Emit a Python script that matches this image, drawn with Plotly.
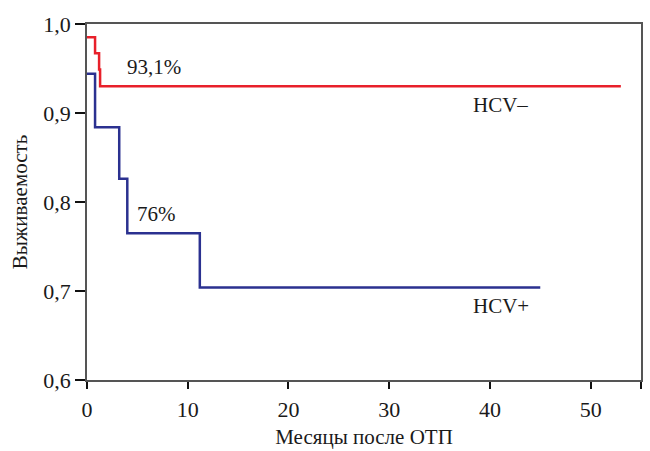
import plotly.graph_objects as go

# HCV- survival curve (months, survival)
neg_months = [0, 0.8, 1.2, 1.3, 53]
neg_surv = [0.985, 0.967, 0.949, 0.930, 0.930]

# HCV+ survival curve
pos_months = [0, 0.8, 3.2, 4.0, 11.2, 45]
pos_surv = [0.944, 0.884, 0.826, 0.765, 0.704, 0.704]

x_ticks = [0, 10, 20, 30, 40, 50, 55]
x_ticktext = ["0", "10", "20", "30", "40", "50", ""]
y_ticks = [0.6, 0.7, 0.8, 0.9, 1.0]

labels = [
    ("93,1%", 6.7, 0.952),
    ("76%", 6.9, 0.787),
    ("HCV–", 41.1, 0.909),
    ("HCV+", 41.1, 0.683),
]

font_family = "Liberation Serif"

fig = go.Figure()
fig.add_trace(go.Scatter(x=neg_months, y=neg_surv, mode="lines",
                         line=dict(color="#e8202a", width=2.5, shape="hv"),
                         showlegend=False))
fig.add_trace(go.Scatter(x=pos_months, y=pos_surv, mode="lines",
                         line=dict(color="#2b3190", width=2.5, shape="hv"),
                         showlegend=False))

for txt, x, y in labels:
    fig.add_annotation(x=x, y=y, text=txt, showarrow=False,
                       font=dict(family=font_family, size=21, color="#1a1a1a"))

fig.update_layout(
    width=650, height=451,
    margin=dict(l=87, r=9, t=24, b=71),
    paper_bgcolor="white", plot_bgcolor="white",
    separators=", ",
    font=dict(family=font_family, size=21, color="#1a1a1a"),
)
fig.update_xaxes(range=[0, 55], tickvals=x_ticks, ticktext=x_ticktext,
                 ticks="outside", ticklen=7, tickwidth=2, tickcolor="#111",
                 showline=True, linecolor="#555", linewidth=1.5, mirror=True,
                 showgrid=False, zeroline=False, automargin=False,
                 ticklabelstandoff=2,
                 tickfont=dict(family=font_family, size=22),
                 title=dict(text="Месяцы после ОТП", font=dict(family=font_family, size=21), standoff=8))
fig.update_yaxes(range=[0.6, 1.0], tickvals=y_ticks, tickformat=".1f",
                 ticks="outside", ticklen=10, tickwidth=2, tickcolor="#111",
                 showline=True, linecolor="#555", linewidth=1.5, mirror=True,
                 showgrid=False, zeroline=False, automargin=False,
                 tickfont=dict(family=font_family, size=22),
                 title=dict(text="Выживаемость", font=dict(family=font_family, size=21), standoff=10))

fig.write_html("out.html", config={"displayModeBar": False},
               post_script="document.body.style.margin='0';")
